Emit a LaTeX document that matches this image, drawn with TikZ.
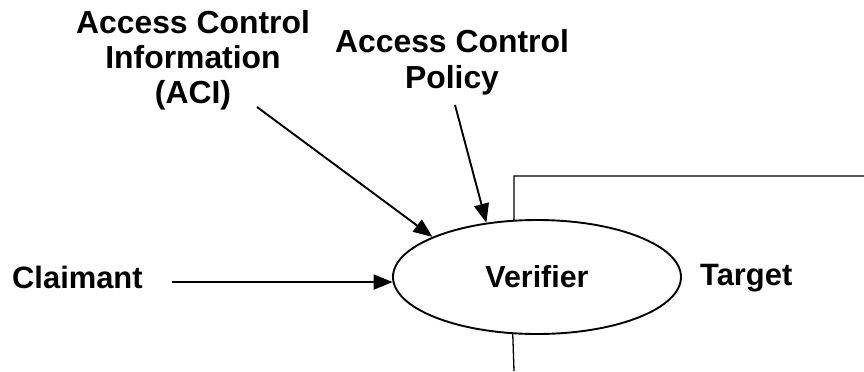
\documentclass[tikz,border=0pt]{standalone}
\usepackage{fontspec}
\setmainfont{Liberation Sans}
\usetikzlibrary{arrows.meta,shapes.geometric}

\tikzset{
  label text/.style={font=\bfseries\fontsize{31}{36}\selectfont, inner sep=0pt, align=center},
  head text/.style={label text, font=\bfseries\fontsize{32}{35.5}\selectfont},
  flow/.style={line width=1.9bp, -{Triangle[length=19bp,width=15bp]}},
  frame line/.style={line width=1.3bp},
  verifier shape/.style={ellipse, draw, line width=1.9bp, minimum width=288bp,
    minimum height=114bp, inner sep=0pt, font=\bfseries\fontsize{30.5}{36}\selectfont}
}

\begin{document}
\begin{tikzpicture}[x=1bp,y=-1bp]
  \useasboundingbox (0,0) rectangle (864,371);

  % central verifier
  \node[verifier shape] (verifier) at (537,277) {Verifier};

  % labels
  \node[head text, anchor=north] (aci) at (193,9.8) {Access Control\\Information\\(ACI)};
  \node[head text, anchor=north] (policy) at (452,29.4) {Access Control\\Policy};
  \node[label text, anchor=base west] (claimant) at (12,288) {Claimant};
  \node[label text, anchor=base west] (target) at (700,285.5) {Target};

  % free ends of the arrows
  \coordinate (aciStart) at (257,107);
  \coordinate (policyStart) at (455,105);
  \coordinate (claimStart) at (172,282);

  \draw[flow] (aciStart) -- (verifier.159);
  \draw[flow] (policyStart) -- (verifier.133.5);
  \draw[flow] (claimStart) -- (verifier.182);

  % target boundary
  \coordinate (frameTop) at (514,176);
  \coordinate (frameRight) at (864,176);
  \coordinate (frameBottom) at (514,371);
  \draw[frame line] (verifier.112.2) -- (frameTop) -- (frameRight);
  \draw[frame line] (verifier.247.8) -- (frameBottom);
\end{tikzpicture}
\end{document}
